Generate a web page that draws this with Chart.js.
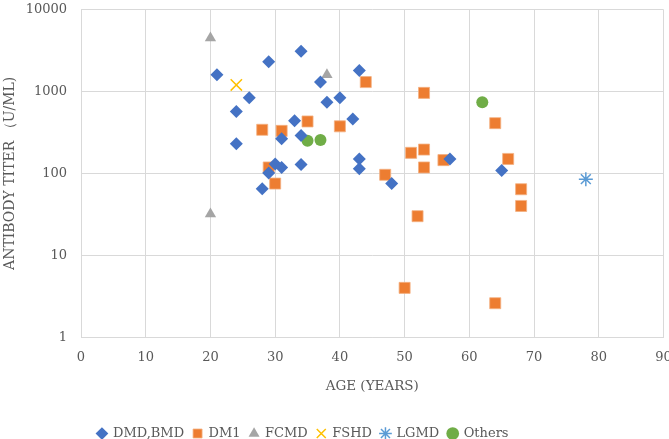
<!DOCTYPE html>
<html>
<head>
<meta charset="utf-8">
<script src="https://cdn.jsdelivr.net/npm/chart.js@4"></script>
<style>
  html, body { margin: 0; padding: 0; background: #fff; overflow: hidden; }
  #wrap { width: 669px; height: 439px; overflow: hidden; }
</style>
</head>
<body>
<div id="wrap"><canvas id="chart" width="673" height="439"></canvas></div>
<script>
/* === DATA (age in years, titer in U/mL) === */
const dmdAge   = [34, 29, 21, 37, 43, 26, 24, 38, 40, 42, 31, 33, 34, 24, 43, 43, 34, 30, 31, 29, 28, 57, 65, 48];
const dmdTiter = [3100, 2300, 1600, 1300, 1800, 840, 570, 740, 840, 460, 265, 440, 290, 230, 150, 114, 128, 130, 118, 101, 65, 150, 108, 75];

const dm1Age   = [44, 28, 31, 35, 40, 29, 30, 53, 64, 51, 53, 53, 56, 66, 47, 68, 68, 52, 50, 64];
const dm1Titer = [1300, 340, 330, 430, 375, 118, 75, 960, 410, 178, 195, 118, 145, 150, 96, 64, 40, 30, 4, 2.6];

const fcmdAge   = [20, 38, 20, 51];
const fcmdTiter = [4500, 1600, 32, 168];

const fshdAge   = [24];
const fshdTiter = [1200];

const lgmdAge   = [78];
const lgmdTiter = [85];

const otherAge   = [35, 37, 62];
const otherTiter = [250, 255, 740];

const yTicks = [1, 10, 100, 1000, 10000];

function pts(xs, ys){ return xs.map((x, i) => ({x: x, y: ys[i]})); }

const FONT = "'DejaVu Serif', 'Liberation Serif', serif";
const TXT = "#595959";

const datasets = [
  {label:"DMD,BMD", data:pts(dmdAge, dmdTiter), pointStyle:"rectRot", radius:6.5, backgroundColor:"#4472C4", borderColor:"#4472C4", borderWidth:0},
  {label:"DM1", data:pts(dm1Age, dm1Titer), pointStyle:"rect", radius:7.8, backgroundColor:"#ED7D31", borderColor:"#F4B183", borderWidth:0.8},
  {label:"FCMD", data:pts(fcmdAge, fcmdTiter), pointStyle:"triangle", radius:6.5, backgroundColor:"#A5A5A5", borderColor:"#A5A5A5", borderWidth:0},
  {label:"FSHD", data:pts(fshdAge, fshdTiter), pointStyle:"crossRot", radius:8, backgroundColor:"#FFC000", borderColor:"#FFC000", borderWidth:1.5},
  {label:"LGMD", data:pts(lgmdAge, lgmdTiter), pointStyle:"star", radius:7, backgroundColor:"#5B9BD5", borderColor:"#5B9BD5", borderWidth:1.5},
  {label:"Others", data:pts(otherAge, otherTiter), pointStyle:"circle", radius:6, backgroundColor:"#70AD47", borderColor:"#70AD47", borderWidth:0}
];

/* nudge the legend to where the original sits */
const legendShift = {
  id: "legendShift",
  afterLayout(chart){
    const lg = chart.legend;
    lg.left -= 32; lg.right -= 32;
    lg.top += 11; lg.bottom += 11;
  }
};

new Chart(document.getElementById("chart").getContext("2d"), {
  type: "scatter",
  data: { datasets: datasets },
  plugins: [legendShift],
  options: {
    responsive: false,
    animation: false,
    layout: { padding: { left: 0, right: 3, top: 7, bottom: 0 } },
    plugins: {
      tooltip: { enabled: false },
      legend: {
        position: "bottom",
        labels: {
          usePointStyle: true,
          boxWidth: 9, boxHeight: 9,
          padding: 9,
          color: TXT,
          font: { family: FONT, size: 13 }
        }
      }
    },
    scales: {
      x: {
        type: "linear", min: 0, max: 90,
        afterFit: axis => { axis.paddingRight = 0; },
        ticks: { stepSize: 10, color: TXT, font: { family: FONT, size: 13 }, padding: 13 },
        grid: { color: "#D9D9D9", drawTicks: false },
        border: { color: "#D9D9D9" },
        title: { display: true, text: "AGE (YEARS)", color: TXT, font: { family: FONT, size: 13.5 }, padding: { top: 0, bottom: 12 } }
      },
      y: {
        type: "logarithmic", min: 1, max: 10000,
        afterBuildTicks: axis => { axis.ticks = yTicks.map(v => ({value: v})); },
        afterFit: axis => { axis.width = 81; axis.paddingTop = 0; },
        ticks: { color: TXT, font: { family: FONT, size: 13 }, padding: 14, callback: v => String(v) },
        grid: { color: "#D9D9D9", drawTicks: false },
        border: { color: "#D9D9D9" },
        title: { display: true, text: "ANTIBODY TITER （U/ML)", color: TXT, font: { family: FONT, size: 14 }, padding: 2 }
      }
    }
  }
});
</script>
</body>
</html>
